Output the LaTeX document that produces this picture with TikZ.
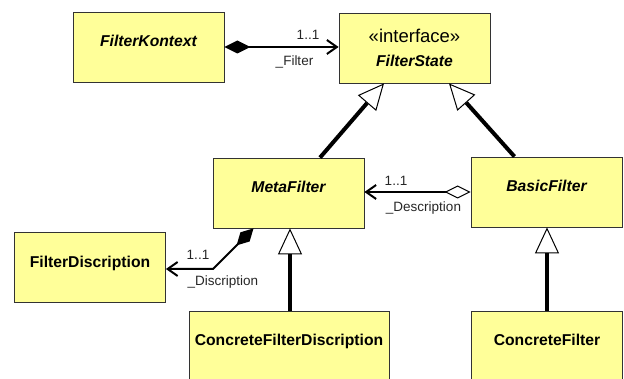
\documentclass[tikz,border=0pt]{standalone}
\usepackage{fontspec}
\setmainfont{Liberation Sans}
\usetikzlibrary{arrows.meta,calc}
\definecolor{classfill}{RGB}{255,255,153}
\begin{document}
\begin{tikzpicture}[x=1pt,y=-1pt,
  boxbase/.style={draw=black!80, line width=0.8pt, fill=classfill,
    minimum width=151pt, minimum height=70pt, inner sep=0pt},
  classbox/.style={boxbase, text height=12pt, text depth=12pt,
    font=\fontsize{15.7}{18}\selectfont\bfseries},
  abstractclass/.style={classbox, font=\fontsize{15.7}{18}\selectfont\bfseries\itshape},
  assoc/.style={line width=2pt},
  barb/.tip={Straight Barb[length=10pt,width=14pt]},
  gen/.style={line width=4pt, -{Triangle[length=26pt,width=24pt,line width=1pt,fill=white]}},
  rolelabel/.style={font=\fontsize{13.5}{16}\selectfont, inner sep=0pt, text=black!85},
]
\useasboundingbox (0,0) rectangle (624,379);
\clip (0,0) rectangle (624,379);

% classes
\node[abstractclass] (FK) at (148.5,47) {FilterKontext};
\node[boxbase, align=center, font=\fontsize{18.5}{22}\selectfont] (FS) at (414.5,48)
  {«interface»\\[2pt]{\fontsize{15.7}{22}\selectfont\bfseries\itshape FilterState}};
\node[abstractclass] (MF) at (288.5,193) {MetaFilter};
\node[abstractclass] (BF) at (546.5,192) {BasicFilter};
\node[classbox] (FD) at (90,267.5) {FilterDiscription};
\node[classbox, minimum width=200pt] (CFD) at (289,346) {ConcreteFilterDiscription};
\node[classbox] (CF) at (547,346) {ConcreteFilter};

% generalizations
\draw[gen] ([xshift=31.5pt]MF.north) -- ([xshift=-30.5pt]FS.south);
\draw[gen] ([xshift=-32pt]BF.north) -- ([xshift=34.5pt]FS.south);
\draw[gen] ([xshift=1pt]CFD.north) -- ([xshift=1pt]CFD.north |- MF.south);
\draw[gen] (CF.north) -- (CF.north |- BF.south);

% composition FilterKontext -> FilterState
\draw[assoc, {Diamond[length=26pt,width=13pt]}-barb] (FK.east) -- (FK.east -| FS.west);
\node[rolelabel] (m1) at (308,34.5) {1..1};
\node[rolelabel] (r1) at (294.5,62) {\_Filter};

% aggregation BasicFilter -> MetaFilter
\draw[assoc, {Diamond[length=26pt,width=13pt,fill=white,line width=1pt]}-barb]
  (BF.west) -- (BF.west -| MF.east);
\node[rolelabel] (m2) at (396,181) {1..1};
\node[rolelabel] (r2) at (423.5,208) {\_Description};

% composition MetaFilter -> FilterDiscription
\coordinate (bend) at (213,269);
\draw[assoc, {Diamond[length=24pt,width=13pt]}-barb]
  ([xshift=-35pt]MF.south) -- (bend) -- (bend -| FD.east);
\node[rolelabel] (m3) at (198,255) {1..1};
\node[rolelabel] (r3) at (223,282) {\_Discription};
\end{tikzpicture}
\end{document}
